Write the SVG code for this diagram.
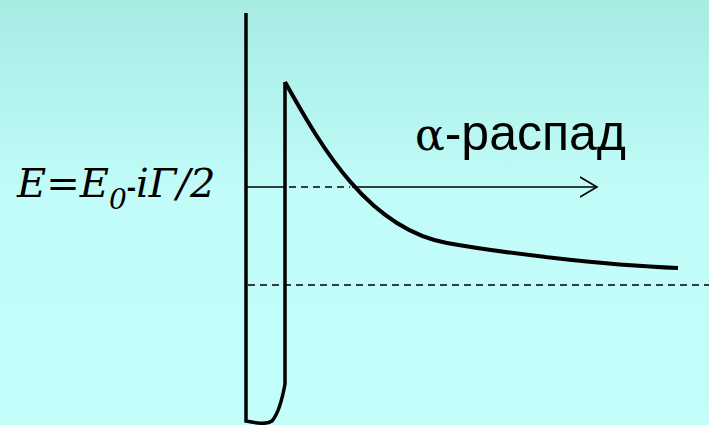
<svg xmlns="http://www.w3.org/2000/svg" width="709" height="425" viewBox="0 0 709 425">
  <defs>
    <linearGradient id="bg" x1="0" y1="0" x2="0" y2="1">
      <stop offset="0" stop-color="#a7ebe3"/>
      <stop offset="0.45" stop-color="#c1fcf8"/>
      <stop offset="1" stop-color="#c3fefb"/>
    </linearGradient>
    <marker id="open" viewBox="0 0 20 24" refX="17" refY="12" markerWidth="20" markerHeight="24" markerUnits="userSpaceOnUse" orient="auto">
      <path d="M0,2 L17,12 L0,22" fill="none" stroke="#000" stroke-width="1.6"/>
    </marker>
  </defs>
  <style>
    .wall { fill: none; stroke: #000; stroke-width: 3.5; stroke-linejoin: miter; }
    .pot { fill: none; stroke: #000; stroke-width: 4; stroke-linecap: butt; }
    .thin { fill: none; stroke: #000; stroke-width: 1.6; }
    .dash { fill: none; stroke: #000; stroke-width: 1.6; stroke-dasharray: 7 5; }
    .formula { font-family: "DejaVu Serif", serif; font-style: italic; font-size: 40px; fill: #000; }
    .label { font-family: "Liberation Sans", Arial, sans-serif; font-size: 50px; fill: #000; }
    .greek { font-family: "DejaVu Serif", serif; font-size: 44px; fill: #000; }
  </style>
  <rect x="0" y="0" width="709" height="425" fill="url(#bg)"/>

  <g id="potential-well">
    <path class="wall" d="M246,13 L246,421 C256,423 266,425 272,421 C279,413 283,395 285,384 L285,82"/>
  </g>

  <g id="barrier-curve">
    <path class="pot" d="M285,82 C318,140 365,228 447,243 C497,252 600,265 678,268"/>
  </g>

  <g id="connectors">
    <line class="thin" x1="246" y1="187" x2="286" y2="187"/>
    <line class="dash" x1="289" y1="187" x2="350" y2="187"/>
    <line class="thin" x1="352" y1="187" x2="597" y2="187" marker-end="url(#open)"/>
    <line class="dash" x1="248" y1="285" x2="709" y2="285"/>
  </g>

  <g id="energy-label">
    <text class="formula" x="17" y="197">E=E<tspan font-size="28px" dy="12">0</tspan><tspan dy="-12" font-style="normal" font-family="'Liberation Sans', Arial, sans-serif" font-weight="bold" font-size="28px">-</tspan>iΓ/2</text>
  </g>

  <g id="alpha-label">
    <text x="415" y="150"><tspan class="greek">α</tspan><tspan class="label">-распад</tspan></text>
  </g>
</svg>
